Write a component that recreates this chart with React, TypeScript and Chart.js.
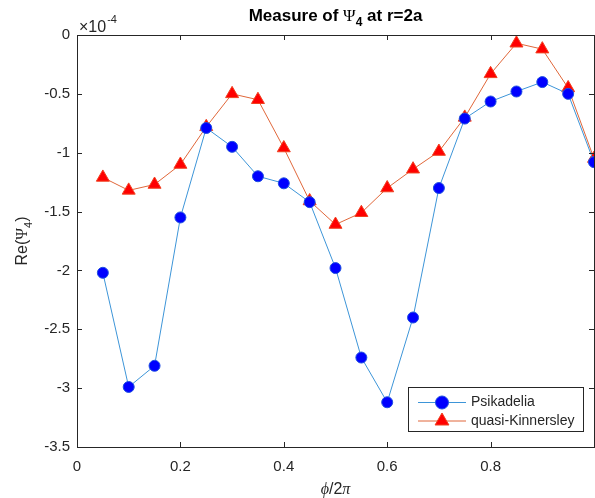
import React, { useEffect, useRef } from "react";
import { Chart, registerables } from "chart.js";

Chart.register(...registerables);

const xValues = [0.05, 0.1, 0.15, 0.2, 0.25, 0.3, 0.35, 0.4, 0.45, 0.5, 0.55, 0.6, 0.65, 0.7, 0.75, 0.8, 0.85, 0.9, 0.95, 1.0];
const psikadelia = [-2.02, -2.99, -2.81, -1.55, -0.79, -0.95, -1.2, -1.26, -1.42, -1.98, -2.74, -3.12, -2.4, -1.3, -0.71, -0.565, -0.48, -0.4, -0.5, -1.08];
const quasiKinnersley = [-1.21, -1.32, -1.27, -1.1, -0.78, -0.5, -0.55, -0.96, -1.41, -1.61, -1.51, -1.3, -1.14, -0.99, -0.7, -0.33, -0.07, -0.12, -0.45, -1.05];
const seriesNames = ["Psikadelia", "quasi-Kinnersley"];
const titleParts = { before: "Measure of ", symbol: "Ψ", sub: "4", after: " at r=2a" };
const yLabelParts = { before: "Re(", symbol: "Ψ", sub: "4", after: ")" };
const exponentLabel = { base: "×10", exp: "-4" };

const TXT = "#262626";
const SANS = "'Liberation Sans', Arial, Helvetica, sans-serif";
const SERIF = "'Liberation Serif', 'DejaVu Serif', serif";

const BLUE_LINE = "#3d95d8";
const BLUE_MARK = "#0000ff";
const RED_LINE = "#e0673a";
const RED_MARK = "#ff0000";

const decorPlugin = {
  id: "decor",
  afterDraw(chart: any) {
    const ctx: CanvasRenderingContext2D = chart.ctx;
    const ca = chart.chartArea;
    const xs = chart.scales.x;
    const ys = chart.scales.y;
    ctx.save();
    // box
    ctx.strokeStyle = TXT;
    ctx.lineWidth = 1;
    ctx.strokeRect(Math.round(ca.left) + 0.5, Math.round(ca.top) + 0.5, Math.round(ca.right - ca.left), Math.round(ca.bottom - ca.top));
    // ticks
    const tl = 5;
    ctx.beginPath();
    xs.ticks.forEach((t: any) => {
      const px = Math.round(xs.getPixelForValue(t.value)) + 0.5;
      ctx.moveTo(px, ca.bottom);
      ctx.lineTo(px, ca.bottom - tl);
      ctx.moveTo(px, ca.top);
      ctx.lineTo(px, ca.top + tl);
    });
    ys.ticks.forEach((t: any) => {
      const py = Math.round(ys.getPixelForValue(t.value)) + 0.5;
      ctx.moveTo(ca.left, py);
      ctx.lineTo(ca.left + tl, py);
      ctx.moveTo(ca.right, py);
      ctx.lineTo(ca.right - tl, py);
    });
    ctx.stroke();

    // title
    const cx = (ca.left + ca.right) / 2;
    ctx.fillStyle = "#000";
    ctx.textBaseline = "alphabetic";
    ctx.textAlign = "left";
    const fB = `bold 17px ${SANS}`;
    const fS = `17px ${SERIF}`;
    const fSub = `bold 12px ${SANS}`;
    ctx.font = fB;
    const w1 = ctx.measureText(titleParts.before).width;
    const w4 = ctx.measureText(titleParts.after).width;
    ctx.font = fS;
    const w2 = ctx.measureText(titleParts.symbol).width;
    ctx.font = fSub;
    const w3 = ctx.measureText(titleParts.sub).width;
    const total = w1 + w2 + w3 + w4;
    let x = cx - total / 2;
    const by = 21;
    ctx.font = fB; ctx.fillText(titleParts.before, x, by); x += w1;
    ctx.font = fS; ctx.fillText(titleParts.symbol, x, by); x += w2;
    ctx.font = fSub; ctx.fillText(titleParts.sub, x, by + 5); x += w3;
    ctx.font = fB; ctx.fillText(titleParts.after, x, by);

    // exponent
    ctx.fillStyle = TXT;
    ctx.font = `16px ${SANS}`;
    ctx.fillText(exponentLabel.base, ca.left + 2, 32);
    const wb = ctx.measureText(exponentLabel.base).width;
    ctx.font = `11px ${SANS}`;
    ctx.fillText(exponentLabel.exp, ca.left + 3 + wb, 23);

    // y label
    ctx.save();
    const cy = (ca.top + ca.bottom) / 2;
    ctx.translate(27, cy);
    ctx.rotate(-Math.PI / 2);
    const yf = `16px ${SANS}`;
    const ysf = `16px ${SERIF}`;
    const ysub = `11px ${SANS}`;
    ctx.font = yf;
    const a1 = ctx.measureText(yLabelParts.before).width;
    const a4 = ctx.measureText(yLabelParts.after).width;
    ctx.font = ysf;
    const a2 = ctx.measureText(yLabelParts.symbol).width;
    ctx.font = ysub;
    const a3 = ctx.measureText(yLabelParts.sub).width;
    let yx = -(a1 + a2 + a3 + a4) / 2;
    ctx.font = yf; ctx.fillText(yLabelParts.before, yx, 0); yx += a1;
    ctx.font = ysf; ctx.fillText(yLabelParts.symbol, yx, 0); yx += a2;
    ctx.font = ysub; ctx.fillText(yLabelParts.sub, yx, 5); yx += a3;
    ctx.font = yf; ctx.fillText(yLabelParts.after, yx, 0);
    ctx.restore();

    // x label  ϕ/2π
    const xf1 = `italic 16px ${SERIF}`;
    const xf2 = `16px ${SANS}`;
    ctx.font = xf1;
    const b1 = ctx.measureText("ϕ").width;
    const b3 = ctx.measureText("π").width;
    ctx.font = xf2;
    const b2 = ctx.measureText("/2").width;
    let xx = cx - (b1 + b2 + b3) / 2;
    const xb = 494;
    ctx.font = xf1; ctx.fillText("ϕ", xx, xb); xx += b1;
    ctx.font = xf2; ctx.fillText("/2", xx, xb); xx += b2;
    ctx.font = xf1; ctx.fillText("π", xx, xb);

    // legend
    const lx = 408, ly = 387, lw = 175, lh = 44;
    ctx.fillStyle = "#fff";
    ctx.fillRect(lx, ly, lw, lh);
    ctx.strokeStyle = TXT;
    ctx.lineWidth = 1;
    ctx.strokeRect(lx + 0.5, ly + 0.5, lw, lh);
    const rows = [
      { y: 402.5, line: BLUE_LINE, mark: BLUE_MARK, style: "circle" },
      { y: 421, line: RED_LINE, mark: RED_MARK, style: "triangle" },
    ];
    rows.forEach((r, i) => {
      ctx.strokeStyle = r.line;
      ctx.lineWidth = 1;
      ctx.beginPath();
      ctx.moveTo(418, r.y);
      ctx.lineTo(466, r.y);
      ctx.stroke();
      ctx.fillStyle = r.mark;
      ctx.strokeStyle = r.mark === BLUE_MARK ? "#1f4fe0" : "#f04020";
      ctx.beginPath();
      if (r.style === "circle") {
        ctx.arc(442, r.y, 6.5, 0, Math.PI * 2);
      } else {
        const rad = 8;
        ctx.moveTo(442, r.y - rad);
        ctx.lineTo(442 + rad * 0.866, r.y + rad / 2);
        ctx.lineTo(442 - rad * 0.866, r.y + rad / 2);
        ctx.closePath();
      }
      ctx.fill();
      ctx.stroke();
      ctx.fillStyle = TXT;
      ctx.font = `14px ${SANS}`;
      ctx.textBaseline = "middle";
      ctx.fillText(seriesNames[i], 471, r.y);
      ctx.textBaseline = "alphabetic";
    });
    ctx.restore();
  },
};

export default function App() {
  const ref = useRef<HTMLCanvasElement | null>(null);
  useEffect(() => {
    if (!ref.current) return;
    const chart = new Chart(ref.current, {
      type: "scatter",
      data: {
        datasets: [
          {
            label: seriesNames[0],
            data: xValues.map((x, i) => ({ x, y: psikadelia[i] })),
            showLine: true,
            borderColor: BLUE_LINE,
            borderWidth: 1,
            pointStyle: "circle",
            pointRadius: 5.5,
            pointBorderWidth: 1,
            pointBackgroundColor: BLUE_MARK,
            pointBorderColor: "#1f4fe0",
          },
          {
            label: seriesNames[1],
            data: xValues.map((x, i) => ({ x, y: quasiKinnersley[i] })),
            showLine: true,
            borderColor: RED_LINE,
            borderWidth: 1,
            pointStyle: "triangle",
            pointRadius: 7.5,
            pointBorderWidth: 1,
            pointBackgroundColor: RED_MARK,
            pointBorderColor: "#f04020",
          },
        ],
      },
      options: {
        responsive: false,
        animation: false,
        devicePixelRatio: 1,
        layout: { padding: { top: 35, right: 7, left: 0, bottom: 0 } },
        plugins: {
          legend: { display: false },
          title: { display: false },
          tooltip: { enabled: false },
        },
        scales: {
          x: {
            type: "linear",
            min: 0,
            max: 1,
            grid: { display: false, drawTicks: false, tickLength: 0 },
            border: { display: false },
            ticks: {
              stepSize: 0.2,
              padding: 11,
              color: TXT,
              font: { family: SANS, size: 15 },
              maxRotation: 0,
              callback: (v: any) => (Math.abs(v - 1) < 1e-9 ? "" : String(Number(Number(v).toFixed(1)))),
            },
            afterFit: (s: any) => { s.height = 51; },
          },
          y: {
            type: "linear",
            min: -3.5,
            max: 0,
            grid: { display: false, drawTicks: false, tickLength: 0 },
            border: { display: false },
            ticks: {
              stepSize: 0.5,
              padding: 7,
              color: TXT,
              font: { family: SANS, size: 15 },
              callback: (v: any) => String(Number(Number(v).toFixed(1))),
            },
            afterFit: (s: any) => { s.width = 77; },
          },
        },
      },
      plugins: [decorPlugin],
    });
    return () => chart.destroy();
  }, []);
  return (
    <div style={{ position: "fixed", left: 0, top: 0, width: 595, height: 498, overflow: "hidden", background: "#fff" }}>
      <canvas ref={ref} width={605} height={498} style={{ width: 605, height: 498, display: "block" }} />
    </div>
  );
}
